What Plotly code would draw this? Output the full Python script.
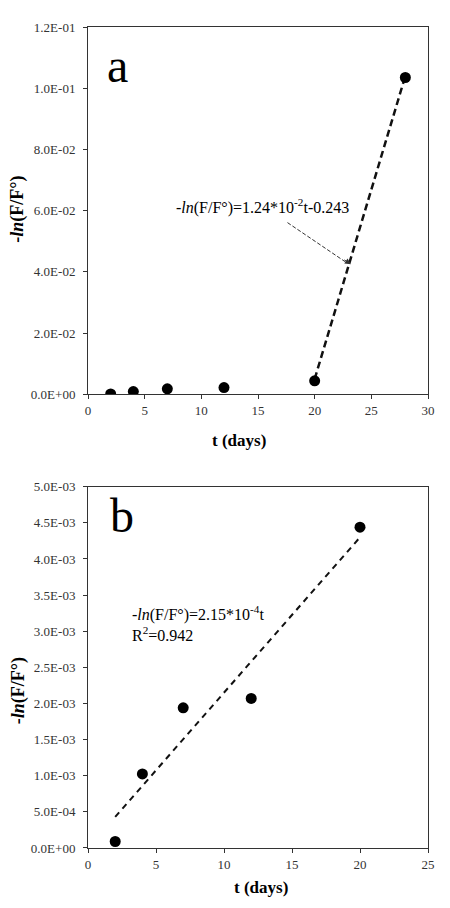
import plotly.graph_objects as go

# panel a
t_a = [2, 4, 7, 12, 20, 28]
y_a = [0.0001, 0.0009, 0.0018, 0.0022, 0.0044, 0.1035]
fit_a_t = [20, 28]
fit_a_y = [0.005, 0.104]
ya_ticks = [0, 0.02, 0.04, 0.06, 0.08, 0.10, 0.12]
ya_labels = ['0.0E+00', '2.0E-02', '4.0E-02', '6.0E-02', '8.0E-02', '1.0E-01', '1.2E-01']

# panel b
t_b = [2, 4, 7, 12, 20]
y_b = [0.00009, 0.001025, 0.00194, 0.00207, 0.00444]
fit_b_t = [2, 20]
fit_b_y = [0.00043, 0.0043]
yb_ticks = [0, 0.0005, 0.001, 0.0015, 0.002, 0.0025, 0.003, 0.0035, 0.004, 0.0045, 0.005]
yb_labels = ['0.0E+00', '5.0E-04', '1.0E-03', '1.5E-03', '2.0E-03', '2.5E-03',
             '3.0E-03', '3.5E-03', '4.0E-03', '4.5E-03', '5.0E-03']

FONT = 'Liberation Serif'

fig = go.Figure()

fig.add_trace(go.Scatter(x=fit_a_t, y=fit_a_y, mode='lines', xaxis='x', yaxis='y',
                         line=dict(color='#111', width=2.5, dash='7px,4px'), showlegend=False))
fig.add_trace(go.Scatter(x=t_a, y=y_a, mode='markers', xaxis='x', yaxis='y',
                         marker=dict(color='black', size=11), showlegend=False))
fig.add_trace(go.Scatter(x=fit_b_t, y=fit_b_y, mode='lines', xaxis='x2', yaxis='y2',
                         line=dict(color='#111', width=2, dash='6px,5px'), showlegend=False))
fig.add_trace(go.Scatter(x=t_b, y=y_b, mode='markers', xaxis='x2', yaxis='y2',
                         marker=dict(color='black', size=11), showlegend=False))

axis_style = dict(showline=True, linecolor='#333', linewidth=1, mirror=True,
                  ticks='outside', ticklen=4, tickcolor='#333', showgrid=False,
                  zeroline=False, tickfont=dict(family=FONT, size=13, color='#333'))

# page body has an 8px margin, so the figure is a bit smaller than the window
fig.update_layout(
    width=442, height=900,
    margin=dict(l=80, r=22, t=13, b=60),
    paper_bgcolor='white', plot_bgcolor='white',
    font=dict(family=FONT, color='black'),
    xaxis=dict(domain=[0, 1], range=[0, 30], tickvals=[0, 5, 10, 15, 20, 25, 30], anchor='y', **axis_style),
    yaxis=dict(domain=[0.5526, 1], range=[0, 0.12], tickvals=ya_ticks, ticktext=ya_labels, anchor='x',
               ticklabelstandoff=5, **axis_style),
    xaxis2=dict(domain=[0, 1], range=[0, 25], tickvals=[0, 5, 10, 15, 20, 25], anchor='y2', **axis_style),
    yaxis2=dict(domain=[0, 0.4401], range=[0, 0.005], tickvals=yb_ticks, ticktext=yb_labels, anchor='x2',
                ticklabelstandoff=5, **axis_style),
)

# arrow in panel a (dashed shaft + head)
fig.add_shape(type='line', xref='x', yref='y', x0=17.6, y0=0.0561, x1=22.7, y1=0.0433,
              line=dict(color='#333', width=1, dash='4px,2px'))
fig.add_annotation(xref='x', yref='y', x=23.2, y=0.0425, ax=-8, ay=-5.3, text='',
                   showarrow=True, arrowhead=2, arrowsize=1.2, arrowwidth=1, arrowcolor='#333')

ann = [
    dict(xref='x', yref='y', x=15.4, y=0.0613,
         text='-<i>ln</i>(F/F°)=1.24*10<sup>-2</sup>t-0.243', font=dict(size=16)),
    dict(xref='x', yref='y', x=2.6, y=0.1075, text='a', font=dict(size=48)),
    dict(xref='x2', yref='y2', x=3.1, y=0.0031, xanchor='left',
         text='-<i>ln</i>(F/F°)=2.15*10<sup>-4</sup>t<br>R<sup>2</sup>=0.942', font=dict(size=16), align='left'),
    dict(xref='x2', yref='y2', x=2.5, y=0.0046, text='b', font=dict(size=48)),
    dict(xref='paper', yref='paper', x=0.445, y=(900 - 60 - 430) / 827, xanchor='center', yanchor='middle',
         text='<b>t (days)</b>', font=dict(size=17)),
    dict(xref='paper', yref='paper', x=0.51, y=(900 - 60 - 880) / 827, xanchor='center', yanchor='middle',
         text='<b>t (days)</b>', font=dict(size=17)),
    dict(xref='paper', yref='paper', x=(18 - 88) / 340, y=(900 - 60 - 197) / 827, textangle=-90,
         xanchor='center', yanchor='middle', text='<b>-<i>ln</i>(F/F°)</b>', font=dict(size=18)),
    dict(xref='paper', yref='paper', x=(18 - 88) / 340, y=(900 - 60 - 682) / 827, textangle=-90,
         xanchor='center', yanchor='middle', text='<b>-<i>ln</i>(F/F°)</b>', font=dict(size=18)),
]
for a in ann:
    a.setdefault('showarrow', False)
    fig.add_annotation(**a)

fig.write_html('out.html')
